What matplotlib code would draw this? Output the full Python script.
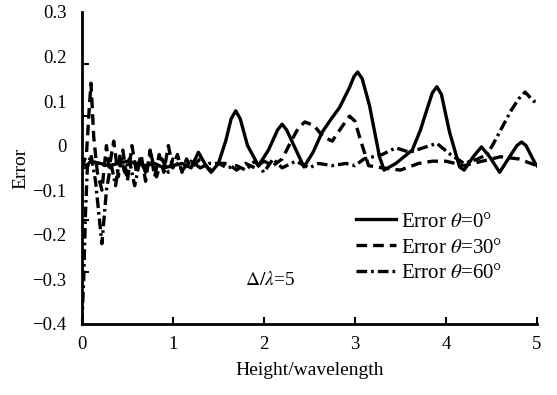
import matplotlib
matplotlib.use("Agg")
import matplotlib.pyplot as plt
from matplotlib.ticker import FixedLocator, FixedFormatter, NullFormatter

plt.rcParams['font.family'] = ['Liberation Serif', 'DejaVu Serif']
plt.rcParams['mathtext.fontset'] = 'stix'

# theta = 0 deg (solid)
x0 = [0, 0.05, 0.1, 0.2, 0.3, 0.4, 0.5, 0.6, 0.7, 0.8, 0.9, 1.0, 1.1, 1.2, 1.28, 1.35,
      1.42, 1.5, 1.58, 1.64, 1.69, 1.74, 1.82, 1.94, 2.05, 2.15, 2.2, 2.25, 2.33, 2.44,
      2.54, 2.64, 2.74, 2.83, 2.94, 2.99, 3.03, 3.08, 3.16, 3.27, 3.32, 3.45, 3.63, 3.72,
      3.79, 3.85, 3.9, 3.95, 4.04, 4.15, 4.2, 4.3, 4.39, 4.48, 4.59, 4.7, 4.78, 4.83,
      4.88, 4.98, 5.0]
y0 = [-0.04, -0.045, -0.035, -0.04, -0.045, -0.04, -0.035, -0.04, -0.045, -0.04, -0.05,
      -0.045, -0.04, -0.05, -0.015, -0.04, -0.06, -0.04, 0.01, 0.06, 0.078, 0.06, 0.0,
      -0.045, -0.01, 0.035, 0.048, 0.035, 0.0, -0.048, -0.015, 0.03, 0.06, 0.085, 0.13,
      0.155, 0.165, 0.15, 0.09, -0.025, -0.055, -0.04, -0.01, 0.035, 0.08, 0.118, 0.132,
      0.115, 0.03, -0.048, -0.055, -0.025, -0.003, -0.025, -0.06, -0.025, 0.0, 0.008,
      0.0, -0.04, -0.045]

# theta = 30 deg (dashed)
x30 = [0, 0.05, 0.08, 0.1, 0.13, 0.17, 0.22, 0.27, 0.3, 0.35, 0.4, 0.45, 0.5, 0.55, 0.6,
       0.65, 0.7, 0.75, 0.8, 0.85, 0.9, 0.95, 1.0, 1.05, 1.1, 1.15, 1.2, 1.3, 1.4, 1.5,
       1.6, 1.7, 1.8, 1.9, 2.0, 2.1, 2.2, 2.3, 2.38, 2.45, 2.55, 2.65, 2.75, 2.85, 2.94,
       3.0, 3.05, 3.15, 3.3, 3.5, 3.7, 3.85, 4.0, 4.2, 4.4, 4.6, 4.8, 5.0]
y30 = [-0.05, -0.02, 0.08, 0.14, 0.02, -0.06, -0.1, 0.0, -0.05, 0.01, -0.07, -0.01, -0.08,
       0.0, -0.06, -0.02, -0.08, -0.01, -0.07, -0.02, -0.06, 0.0, -0.05, -0.02, -0.06,
       -0.03, -0.05, -0.03, -0.055, -0.04, -0.04, -0.055, -0.04, -0.05, -0.035, -0.045,
       -0.03, 0.01, 0.04, 0.053, 0.045, 0.02, 0.01, 0.04, 0.066, 0.055, 0.02, -0.045,
       -0.05, -0.055, -0.04, -0.035, -0.035, -0.045, -0.035, -0.025, -0.03, -0.045]

# theta = 60 deg (dash-dot)
x60 = [0, 0.02, 0.04, 0.06, 0.1, 0.15, 0.22, 0.27, 0.32, 0.37, 0.42, 0.47, 0.52, 0.58,
       0.64, 0.7, 0.76, 0.82, 0.88, 0.95, 1.0, 1.1, 1.2, 1.3, 1.4, 1.5, 1.6, 1.7, 1.8,
       1.9, 2.0, 2.1, 2.2, 2.35, 2.5, 2.6, 2.75, 2.9, 3.0, 3.1, 3.3, 3.45, 3.6, 3.75, 3.9,
       4.05, 4.2, 4.35, 4.45, 4.51, 4.62, 4.72, 4.8, 4.87, 4.96, 5.0]
y60 = [-0.4, -0.3, -0.15, -0.05, -0.02, -0.08, -0.22, -0.1, -0.04, -0.09, -0.02, -0.06,
       -0.03, -0.09, -0.03, -0.06, -0.02, -0.07, -0.03, -0.06, -0.03, -0.055, -0.035,
       -0.05, -0.04, -0.04, -0.05, -0.045, -0.055, -0.035, -0.06, -0.03, -0.05, -0.035,
       -0.05, -0.04, -0.045, -0.04, -0.045, -0.03, -0.02, -0.005, -0.015, -0.005, 0.005,
       -0.02, -0.04, -0.03, -0.02, 0.0, 0.042, 0.08, 0.105, 0.12, 0.1, 0.098]

ytick_vals = [0.3, 0.2, 0.1, 0, -0.1, -0.2, -0.3, -0.4]
ytick_labels = ['0.3', '0.2', '0.1', '0', '\u22120.1', '\u22120.2', '\u22120.3', '\u22120.4']
xtick_vals = [0, 1, 2, 3, 4, 5]

fig = plt.figure(figsize=(5.57, 3.95), dpi=100)
ax = fig.add_axes([0.147, 0.18, 0.817, 0.79])

ax.plot(x0, y0, color='black', lw=2.4, ls='-', label=r'Error $\theta$=0°')
ax.plot(x30, y30, color='black', lw=2.4, ls=(0, (3.2, 1.8)), label=r'Error $\theta$=30°')
ax.plot(x60, y60, color='black', lw=2.4, ls=(0, (3.2, 1.2, 0.8, 1.2)), label=r'Error $\theta$=60°')

ax.set_xlim(0, 5)
ax.set_ylim(-0.4, 0.3)

for s in ['top', 'right']:
    ax.spines[s].set_visible(False)
for s in ['left', 'bottom']:
    ax.spines[s].set_linewidth(2)

ax.yaxis.set_major_locator(FixedLocator(ytick_vals))
ax.yaxis.set_major_formatter(FixedFormatter(ytick_labels))
ax.tick_params(axis='y', which='major', length=0, pad=11, labelsize=13.5)
ax.yaxis.set_minor_locator(FixedLocator([0.3 - k * 0.7 / 6 for k in range(7)]))
ax.yaxis.set_minor_formatter(NullFormatter())
ax.tick_params(axis='y', which='minor', direction='in', length=5, width=1.5)

ax.set_xticks(xtick_vals)
ax.set_xticklabels([str(v) for v in xtick_vals])
ax.tick_params(axis='x', direction='in', length=5, width=1.5, pad=9, labelsize=13.5)

ax.set_xlabel('Height/wavelength', fontsize=14, labelpad=6)
ax.set_ylabel('Error', fontsize=14, labelpad=2)

leg = ax.legend(loc='upper left', bbox_to_anchor=(0.585, 0.385), frameon=False, fontsize=15,
                handlelength=1.9, handletextpad=0.25, labelspacing=0.3, borderaxespad=0)

ax.text(2.07, -0.301, r'$\mathit{\Delta}/\mathit{\lambda}$=5', fontsize=14,
        ha='center', va='center')

fig.savefig('out.png', dpi=100)
